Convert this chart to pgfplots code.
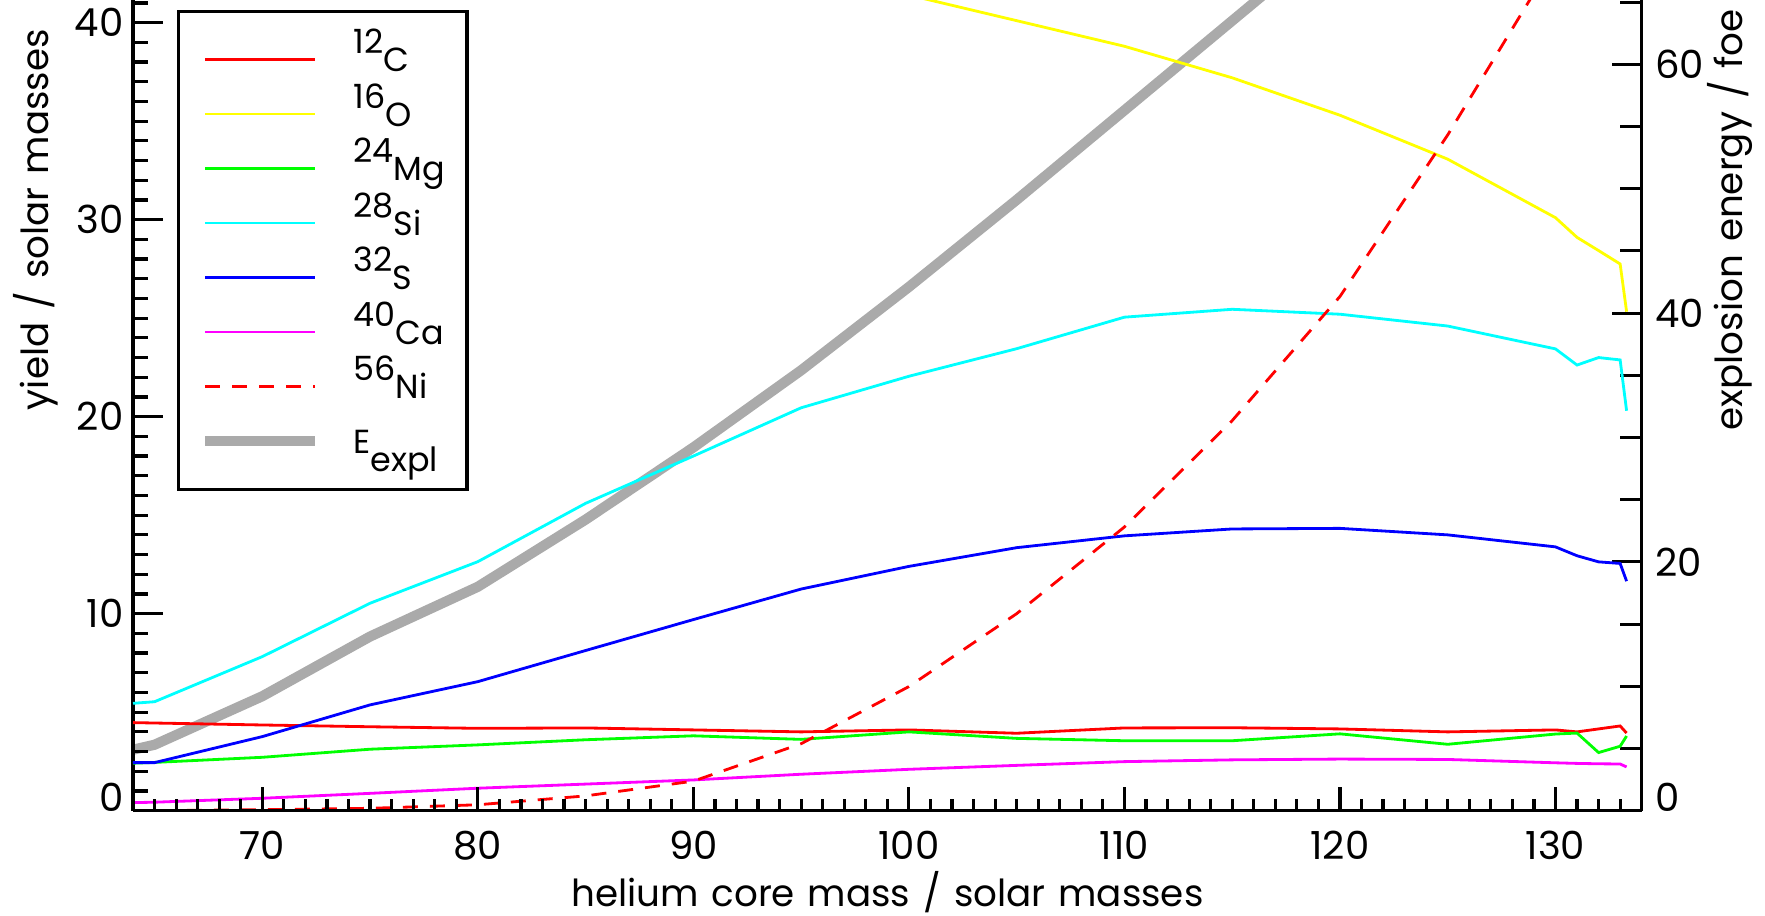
\documentclass[border=0pt]{standalone}
\usepackage{fontspec}
\setmainfont{Poppins}
\newfontfamily\labfam[WordSpace=1.3]{Poppins}
\usepackage{pgfplots}
\pgfplotsset{compat=1.18}
\definecolor{eexpl}{RGB}{170,170,170}
\definecolor{cC}{RGB}{255,0,0}
\definecolor{cO}{RGB}{255,255,0}
\definecolor{cMg}{RGB}{0,255,0}
\definecolor{cSi}{RGB}{0,255,255}
\definecolor{cS}{RGB}{0,0,255}
\definecolor{cCa}{RGB}{255,0,255}

% yields in solar masses
\pgfplotstableread{
x      C     Mg    Si     S      Ca
64     4.47  2.41  5.45   2.44   0.41
65     4.45  2.45  5.53   2.44   0.43
70     4.35  2.71  7.82   3.76   0.63
75     4.26  3.12  10.53  5.37   0.88
80     4.18  3.34  12.64  6.55   1.14
85     4.20  3.60  15.60  8.13   1.35
90     4.10  3.80  18.00  9.70   1.56
95     4.00  3.62  20.45  11.25  1.85
100    4.10  4.00  22.05  12.40  2.10
105    3.93  3.67  23.45  13.35  2.30
110    4.20  3.55  25.05  13.95  2.49
115    4.21  3.55  25.45  14.30  2.58
120    4.15  3.90  25.20  14.33  2.62
125    4.00  3.37  24.60  14.00  2.60
130    4.10  3.89  23.44  13.39  2.43
131    4.00  3.94  22.62  12.94  2.40
132    4.15  2.95  23.00  12.63  2.38
133    4.30  3.27  22.88  12.55  2.37
133.3  3.94  3.79  20.30  11.65  2.22
}\lowtab

\pgfplotstableread{
x      O
95     42.60
100    41.40
105    40.10
110    38.80
115    37.20
120    35.30
125    33.07
130    30.10
131    29.10
132    28.43
133    27.75
133.3  25.33
}\otab

\pgfplotstableread{
x    Ni
64   0.00
65   0.00
70   0.05
75   0.12
80   0.30
85   0.75
90   1.50
95   3.40
100  6.30
105  10.00
110  14.40
115  19.80
120  26.10
125  34.30
130  43.30
}\nitab

% explosion energy in foe
\pgfplotstableread{
x    E
64   4.9
65   5.3
70   9.2
75   14.0
80   18.0
85   23.4
90   29.2
95   35.4
100  42.1
105  49.1
110  56.3
115  63.5
120  70.7
}\etab

\newcommand{\labfont}{\labfam\fontsize{10.6}{12.5}\selectfont}
\newcommand{\iso}[2]{\raisebox{0.18cm}{#1}#2}

\pgfplotsset{
  base/.style={
    scale only axis, width=15.087cm, height=8.107cm,
    xmin=64, xmax=134,
    tick align=inside,
    axis line style={line width=0.9pt},
    tick style={line width=0.9pt, black},
    tick label style={font=\fontsize{11}{13}\selectfont},
    /pgf/number format/assume math mode=true,
  },
}

\begin{document}
\begin{tikzpicture}

% right axis: explosion energy (drawn first, so it lies behind)
\begin{axis}[base,
  ymin=0, ymax=65.17,
  axis x line=none, axis y line*=right,
  ytick={0,20,40,60}, yticklabels={\raisebox{0.27cm}{0},20,40,60},
  minor ytick={0,5,...,65},
  major tick length=0.3cm, minor tick length=0.22cm,
  yticklabel style={anchor=west, inner sep=0pt, xshift=0.13cm},
  every axis y label/.style={at={(axis description cs:1.0585,0.729)}, rotate=90, anchor=center, inner sep=0pt, font=\labfont},
  ylabel={explosion energy / foe},
]
\addplot[eexpl, line width=2.9pt] table[x=x, y=E] {\etab};
\end{axis}

% left axis: yields
\begin{axis}[base,
  ymin=0, ymax=41.15,
  axis x line=none, axis y line*=left,
  ytick={0,10,...,40}, yticklabels={\raisebox{0.27cm}{0},10,20,30,40},
  minor ytick={0,1,...,41},
  major tick length=0.3cm, minor tick length=0.15cm,
  yticklabel style={anchor=east, inner sep=0pt, xshift=-0.09cm},
  every axis y label/.style={at={(axis description cs:-0.0643,0.729)}, rotate=90, anchor=center, inner sep=0pt, font=\labfont},
  ylabel={yield / solar masses},
  legend style={
    at={(axis description cs:0.029,0.988)}, anchor=north west,
    draw=black, line width=0.9pt, fill=white,
    inner xsep=0.22cm, inner ysep=0.21cm,
    cells={anchor=west},
    nodes={text height=0.3925cm, text depth=0.1525cm, inner sep=0pt},
    /tikz/every odd column/.append style={column sep=0.33cm},
    font=\fontsize{9.5}{11}\selectfont,
  },
  legend image code/.code={\draw[#1] (0cm,0cm) -- (1.1cm,0cm);},
]
\addplot[cC, line width=0.8pt] table[x=x, y=C] {\lowtab};
\addlegendentry{\iso{12}{C}}
\addplot[cO, line width=0.8pt] table[x=x, y=O] {\otab};
\addlegendentry{\iso{16}{O}}
\addplot[cMg, line width=0.8pt] table[x=x, y=Mg] {\lowtab};
\addlegendentry{\iso{24}{Mg}}
\addplot[cSi, line width=0.8pt] table[x=x, y=Si] {\lowtab};
\addlegendentry{\iso{28}{Si}}
\addplot[cS, line width=0.8pt] table[x=x, y=S] {\lowtab};
\addlegendentry{\iso{32}{S}}
\addplot[cCa, line width=0.8pt] table[x=x, y=Ca] {\lowtab};
\addlegendentry{\iso{40}{Ca}}
\addplot[cC, line width=0.8pt, dash pattern=on 0.15cm off 0.12cm] table[x=x, y=Ni] {\nitab};
\addlegendentry{\iso{56}{Ni}}
\addlegendimage{eexpl, line width=2.9pt}
\addlegendentry{E\raisebox{-0.18cm}{expl}}
\end{axis}

% bottom axis
\begin{axis}[base,
  ymin=0, ymax=1,
  axis y line=none, axis x line*=bottom,
  xtick={70,80,...,130}, minor xtick={64,65,...,134},
  major tick length=0.24cm, minor tick length=0.12cm,
  xticklabel style={anchor=center, yshift=-0.35cm},
  every axis x label/.style={at={(axis description cs:0.5,0)}, anchor=base, yshift=-0.963cm, inner sep=0pt, font=\labfont},
  xlabel={helium core mass / solar masses},
]
\end{axis}

\pgfresetboundingbox
\useasboundingbox (-1.33cm,-1.053cm) rectangle (16.32cm,8.107cm);
\end{tikzpicture}
\end{document}
